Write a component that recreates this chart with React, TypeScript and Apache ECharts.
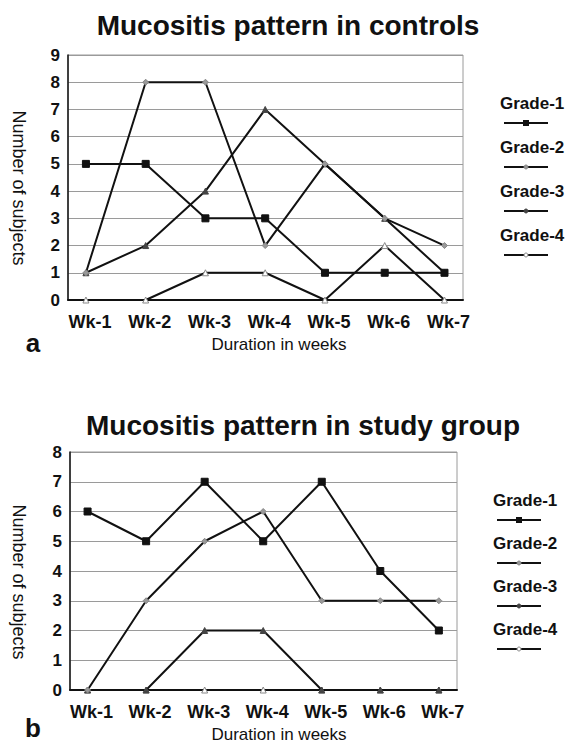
import React, { useEffect, useRef } from "react";
import * as echarts from "echarts";

const weeks = ["Wk-1", "Wk-2", "Wk-3", "Wk-4", "Wk-5", "Wk-6", "Wk-7"];
const gradeNames = ["Grade-1", "Grade-2", "Grade-3", "Grade-4"];

const controlsGrade1 = [5, 5, 3, 3, 1, 1, 1];
const controlsGrade2 = [1, 8, 8, 2, 5, 3, 2];
const controlsGrade3 = [1, 2, 4, 7, 5, 3, 1];
const controlsGrade4 = [0, 0, 1, 1, 0, 2, 0];

const studyGrade1 = [6, 5, 7, 5, 7, 4, 2];
const studyGrade2 = [0, 3, 5, 6, 3, 3, 3];
const studyGrade3 = [0, 0, 2, 2, 0, 0, 0];
const studyGrade4 = [0, 0, 0, 0, 0, 0, 0];

const controlsTicks = [0, 1, 2, 3, 4, 5, 6, 7, 8, 9];
const studyTicks = [0, 1, 2, 3, 4, 5, 6, 7, 8];

const FONT = "'Liberation Sans', Arial, Helvetica, sans-serif";

const markers = [
  { symbol: "rect", size: 7, color: "#111", border: "#111" },
  { symbol: "diamond", size: 6, color: "#999", border: "#888" },
  { symbol: "triangle", size: 6, color: "#444", border: "#444" },
  { symbol: "triangle", size: 6, color: "#fff", border: "#888" },
];

function legendGraphics(x: number, y0: number, step: number) {
  const els: any[] = [];
  gradeNames.forEach((name, i) => {
    const ty = y0 + i * step;
    els.push({
      type: "text",
      x: x,
      y: ty,
      style: {
        text: name,
        font: `bold 17px ${FONT}`,
        fill: "#111",
        align: "left",
        verticalAlign: "middle",
      },
    });
    els.push({
      type: "line",
      shape: { x1: x + 4, y1: ty + 20, x2: x + 48, y2: ty + 20 },
      style: { stroke: "#111", lineWidth: 2 },
    });
    const m = markers[i];
    if (i === 0) {
      els.push({
        type: "rect",
        shape: { x: x + 23, y: ty + 17, width: 6, height: 6 },
        style: { fill: "#111" },
      });
    } else {
      els.push({
        type: "circle",
        shape: { cx: x + 26, cy: ty + 20, r: 2 },
        style: { fill: m.color, stroke: m.border, lineWidth: 1 },
      });
    }
  });
  return els;
}

function makeSeries(arrs: number[][], axisIndex: number) {
  return arrs.map((arr, gi) => ({
    type: "line",
    name: gradeNames[gi],
    xAxisIndex: axisIndex,
    yAxisIndex: axisIndex,
    data: arr.map((v, i) => [i, v]),
    symbol: markers[gi].symbol,
    symbolSize: markers[gi].size,
    showAllSymbol: true,
    lineStyle: { color: "#111", width: 2 },
    itemStyle: {
      color: markers[gi].color,
      borderColor: markers[gi].border,
      borderWidth: 1,
    },
    z: 5 - gi,
  }));
}

function xAxisCfg(gridIndex: number) {
  return {
    type: "value",
    gridIndex,
    min: -0.3,
    max: 6.31,
    axisLine: { show: true, onZero: false, lineStyle: { color: "#111", width: 2 } },
    axisTick: { show: false },
    splitLine: { show: false },
    axisLabel: {
      customValues: [0, 1, 2, 3, 4, 5, 6],
      formatter: (v: number) => weeks[Math.round(v)],
      fontFamily: FONT,
      fontWeight: "bold",
      fontSize: 18,
      color: "#111",
      margin: 13,
      padding: [0, 0, 0, 8],
    },
  };
}

function yAxisCfg(gridIndex: number, ticks: number[]) {
  return {
    type: "value",
    gridIndex,
    min: ticks[0],
    max: ticks[ticks.length - 1],
    interval: 1,
    axisLine: { show: true, onZero: false, lineStyle: { color: "#111", width: 1.5 } },
    axisTick: { show: false },
    splitLine: { show: true, lineStyle: { color: "#9a9a9a", width: 1 } },
    axisLabel: {
      fontFamily: FONT,
      fontWeight: "bold",
      fontSize: 17,
      color: "#111",
      margin: 8,
    },
  };
}

export default function App() {
  const ref = useRef<HTMLDivElement>(null);

  useEffect(() => {
    document.body.style.margin = "0";
    const chart = echarts.init(ref.current!, null, { renderer: "svg" });
    const option: any = {
      animation: false,
      backgroundColor: "#fff",
      textStyle: { fontFamily: FONT },
      title: [
        {
          text: "Mucositis pattern in controls",
          left: 283,
          top: 6,
          textAlign: "center",
          textStyle: { fontFamily: FONT, fontWeight: "bold", fontSize: 28, color: "#111" },
        },
        {
          text: "Mucositis pattern in study group",
          left: 298,
          top: 406,
          textAlign: "center",
          textStyle: { fontFamily: FONT, fontWeight: "bold", fontSize: 28, color: "#111" },
        },
      ],
      grid: [
        { left: 68, top: 55, width: 395, height: 245, show: true, borderColor: "#9a9a9a", borderWidth: 1 },
        { left: 70, top: 452, width: 387, height: 238, show: true, borderColor: "#9a9a9a", borderWidth: 1 },
      ],
      xAxis: [xAxisCfg(0), xAxisCfg(1)],
      yAxis: [yAxisCfg(0, controlsTicks), yAxisCfg(1, studyTicks)],
      series: [
        ...makeSeries([controlsGrade1, controlsGrade2, controlsGrade3, controlsGrade4], 0),
        ...makeSeries([studyGrade1, studyGrade2, studyGrade3, studyGrade4], 1),
      ],
      graphic: [
        {
          type: "text",
          x: 19,
          y: 188,
          rotation: -Math.PI / 2,
          style: { text: "Number of subjects", font: `18px ${FONT}`, fill: "#111", align: "center", verticalAlign: "middle" },
        },
        {
          type: "text",
          x: 19,
          y: 582,
          rotation: -Math.PI / 2,
          style: { text: "Number of subjects", font: `18px ${FONT}`, fill: "#111", align: "center", verticalAlign: "middle" },
        },
        {
          type: "text",
          x: 279,
          y: 344,
          style: { text: "Duration in weeks", font: `17px ${FONT}`, fill: "#111", align: "center", verticalAlign: "middle" },
        },
        {
          type: "text",
          x: 279,
          y: 734,
          style: { text: "Duration in weeks", font: `17px ${FONT}`, fill: "#111", align: "center", verticalAlign: "middle" },
        },
        {
          type: "text",
          x: 33,
          y: 343,
          style: { text: "a", font: `bold 26px ${FONT}`, fill: "#111", align: "center", verticalAlign: "middle" },
        },
        {
          type: "text",
          x: 33,
          y: 728,
          style: { text: "b", font: `bold 26px ${FONT}`, fill: "#111", align: "center", verticalAlign: "middle" },
        },
        ...legendGraphics(500, 103, 44),
        ...legendGraphics(493, 500, 43),
      ],
    };
    chart.setOption(option);
    return () => chart.dispose();
  }, []);

  return <div ref={ref} style={{ width: 570, height: 743 }} />;
}
